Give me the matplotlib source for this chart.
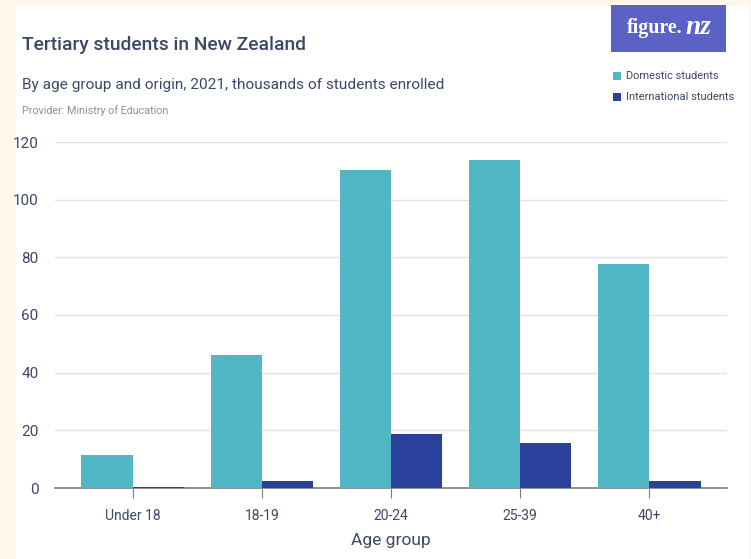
import matplotlib.pyplot as plt
from matplotlib.patches import Rectangle
import numpy as np

# Data (thousands of students)
age_groups = ['Under 18', '18-19', '20-24', '25-39', '40+']
domestic = [11.5, 46.1, 110.3, 113.6, 77.7]
international = [0.3, 2.5, 18.7, 15.6, 2.4]
y_ticks = [0, 20, 40, 60, 80, 100, 120]

dom_color = '#52b7c5'
intl_color = '#29419a'
text_color = '#3b4868'
muted = '#8a8f99'

plt.rcParams['font.family'] = ['Roboto', 'DejaVu Sans']

W, H = 751, 559
fig = plt.figure(figsize=(W / 100, H / 100), dpi=100)
fig.patch.set_facecolor('#fff7ec')
renderer = fig.canvas.get_renderer()


def px(x, y):
    return x / W, 1 - y / H


def fitted_text(x, y, s, width_px, size, **kw):
    # shrink/grow the font so the text spans roughly width_px
    t = fig.text(*px(x, y), s, fontsize=size, **kw)
    w = t.get_window_extent(renderer).width
    t.set_fontsize(size * width_px / w)
    return t


# white card
fig.add_artist(Rectangle((16 / W, 0), (749 - 16) / W, 1 - 5 / H,
                         transform=fig.transFigure, facecolor='white',
                         edgecolor='none', zorder=0))

ax = fig.add_axes([55 / W, 1 - 488 / H, (727 - 55) / W, (488 - 142) / H])
ax.set_facecolor('white')

x = np.arange(len(age_groups))
w = 0.395
ax.bar(x - w / 2, domestic, width=w, color=dom_color, zorder=3)
ax.bar(x + w / 2, international, width=w, color=intl_color, zorder=3)

ax.set_xlim(-0.6, len(age_groups) - 0.4)
ax.set_ylim(0, 120)
ax.set_yticks(y_ticks)
ax.set_xticks(x)
ax.set_xticklabels(age_groups)
ax.yaxis.grid(True, color='#e3e3e3', linewidth=1, zorder=0)
for s in ['top', 'right', 'left']:
    ax.spines[s].set_visible(False)
ax.spines['bottom'].set_color('#7d7d7d')
ax.spines['bottom'].set_linewidth(1.2)
ax.tick_params(axis='y', length=0, pad=12, labelsize=11, labelcolor=text_color)
ax.tick_params(axis='x', length=7, color='#7d7d7d', pad=8, labelsize=10,
               labelcolor=text_color)
ax.set_xlabel('Age group', fontsize=12.5, color=text_color, labelpad=7)

# headings
fitted_text(22, 45, 'Tertiary students in New Zealand', 285, 14,
            color=text_color, va='center', ha='left', fontweight='medium')
fitted_text(22, 85, 'By age group and origin, 2021, thousands of students enrolled', 421, 12,
            color=text_color, va='center', ha='left')
fitted_text(22, 111, 'Provider: Ministry of Education', 146, 8,
            color=muted, va='center', ha='left')

# logo
fig.add_artist(Rectangle((611 / W, 1 - 52 / H), (726 - 611) / W, (52 - 5) / H,
                         transform=fig.transFigure, facecolor='#5a62c6',
                         edgecolor='none'))
serif = ['Liberation Serif', 'DejaVu Serif']
fitted_text(627, 28, 'figure.', 56, 14, color='white', ha='left', va='center',
            family=serif, fontweight='bold')
fitted_text(685, 28, 'nz', 26, 14, color='white', style='italic', ha='left',
            va='center', family=serif, fontweight='bold')

# legend
leg_items = [('Domestic students', dom_color, 76, 91),
             ('International students', intl_color, 97, 107)]
for label, col, yy, tw in leg_items:
    fig.add_artist(Rectangle((613 / W, 1 - (yy + 4) / H), 8 / W, 8 / H,
                             transform=fig.transFigure, facecolor=col, edgecolor='none'))
    fitted_text(626, yy, label, tw, 8.5, color=text_color, ha='left', va='center')

fig.savefig('out.png', dpi=100, facecolor=fig.get_facecolor())
